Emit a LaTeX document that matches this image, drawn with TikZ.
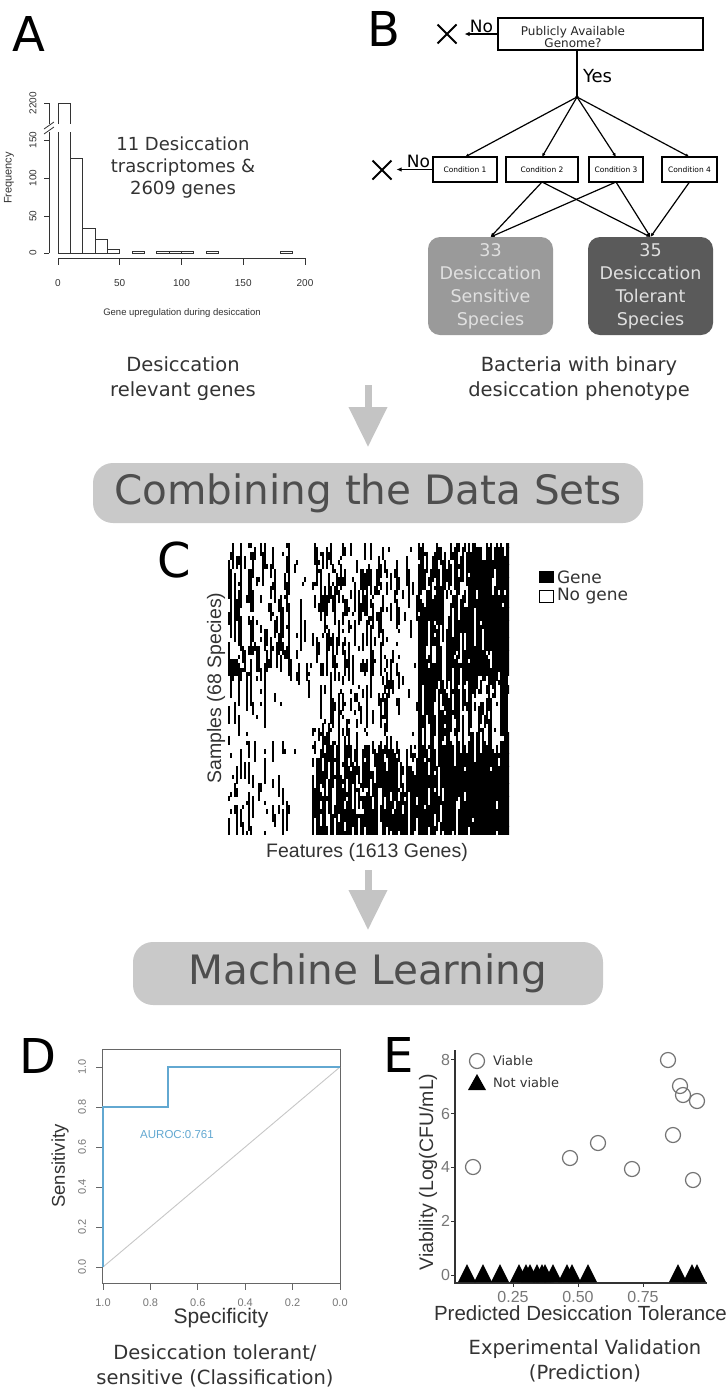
\documentclass[tikz,border=0pt]{standalone}
\usepackage{fontspec}
\setmainfont{DejaVu Sans}
\newfontfamily\arialf{Liberation Sans}
\usetikzlibrary{arrows.meta,shapes.misc}
\definecolor{boxgray}{HTML}{C9C9C9}
\definecolor{arrowgray}{HTML}{C4C4C4}
\definecolor{sensgray}{HTML}{9A9A9A}
\definecolor{tolgray}{HTML}{5A5A5A}
\definecolor{boxtext}{HTML}{4E4E4E}
\definecolor{rocblue}{HTML}{62A8D1}
\definecolor{ticktext}{HTML}{777777}
\definecolor{darktext}{HTML}{333333}
\begin{document}
\begin{tikzpicture}[x=1pt,y=-1pt,
  every node/.style={inner sep=0pt,outer sep=0pt},
  panelletter/.style={font=\fontsize{48}{50}\selectfont},
  captxt/.style={font=\fontsize{19.5}{25}\selectfont,align=center,text=darktext},
  flowbox/.style={draw,line width=1.6pt,align=center},
  treeline/.style={line width=1.2pt,-{Latex[length=4pt,width=3.5pt]}},
  noarrow/.style={line width=1.2pt,-{Latex[length=5pt,width=4.5pt]}},
  xmark/.style={draw,cross out,line width=1.8pt,minimum size=19pt},
  bigbox/.style={fill=boxgray,rounded corners=20pt,text=boxtext,font=\fontsize{40.5}{44}\selectfont},
  bigarrow/.style={draw=arrowgray,line width=7pt,-{Triangle[length=40pt,width=37pt]}},
  histbar/.style={draw=darktext,line width=0.9pt},
  axisA/.style={draw=darktext,line width=0.8pt},
  tickA/.style={font=\arialf\fontsize{10}{11}\selectfont,text=darktext},
  tickD/.style={font=\arialf\fontsize{11}{12}\selectfont,text=ticktext},
  tickE/.style={font=\arialf\fontsize{16}{18}\selectfont,text=ticktext},
  plotlab/.style={font=\arialf\fontsize{19.5}{22}\selectfont,text=darktext},
  specbox/.style={rounded corners=12pt,minimum width=125pt,minimum height=98pt,align=center,font=\fontsize{17.5}{23}\selectfont,text=white!88!black}
]
\useasboundingbox (0,0) rectangle (726,1390);
\fill[white] (0,0) rectangle (726,1390);

% ---------------- Panel letters
\node[panelletter] (lA) at (28.5,34) {A};
\node[panelletter] (lB) at (384,29) {B};
\node[panelletter] (lC) at (174,560) {C};
\node[panelletter] (lD) at (37.5,1056) {D};
\node[panelletter] (lE) at (399,1055) {E};

% ---------------- Panel A histogram
\draw[axisA] (58,258) -- (305,258);
\foreach \v/\t in {0/0,50/50,100/100,150/150,200/200}{
  \draw[axisA] ({58+1.235*\v},258) -- ({58+1.235*\v},265);
  \node[tickA] at ({58+1.235*\v},283) {\t};
}
\draw[axisA] (49,253) -- (49,132);
\draw[axisA] (49,124) -- (49,103);
\foreach \yy/\t in {253/0,216/50,178/100,140/150,103/2200}{
  \draw[axisA] (44,\yy) -- (49,\yy);
  \node[tickA,rotate=90] at (33,\yy) {\t};
}
\draw[axisA] (44,134) -- (54,127);
\draw[axisA] (44,129) -- (54,122);
\node[font=\arialf\fontsize{11}{12}\selectfont,text=darktext,rotate=90] (freq) at (9,178) {Frequency};
\node[font=\arialf\fontsize{9.5}{11}\selectfont,text=darktext] (xlabA) at (182,313) {Gene upregulation during desiccation};
% first bar with break
\draw[histbar] (58,253) -- (58,132);
\draw[histbar] (58,124) -- (58,103) -- (70.35,103) -- (70.35,124);
\draw[histbar] (70.35,132) -- (70.35,253) -- (58,253);
\foreach \a/\h in {10/125,20/33,30/18,40/5,60/2,80/1,90/1,100/1,120/1,180/1}{
  \draw[histbar] ({58+1.235*\a},253) rectangle ({58+1.235*(\a+10)},{253-max(0.753*\h,1.5)});
}
\node[font=\fontsize{18}{22}\selectfont,align=center,text=darktext] (histtxt) at (183,168) {11 Desiccation\\trascriptomes \&\\2609 genes};
\node[captxt] (capA) at (183,379) {Desiccation\\relevant genes};

% ---------------- Panel B flow chart
\node[flowbox,minimum width=205pt,minimum height=32pt] (pub) at (600.5,34) {};
\node[font=\fontsize{12}{12.5}\selectfont,align=center,text=black!85] (pubtxt) at (573,37) {Publicly Available\\Genome?};
\node[xmark] (xm1) at (447,34) {};
\node[font=\fontsize{17}{18}\selectfont] (no1) at (481.5,26) {No};
\draw[noarrow,shorten >=8pt] (pub.west) -- (pub.west -| xm1.east);
\coordinate (split) at (577,97);
\draw[line width=1.2pt] (pub.south -| split) -- (split);
\fill (split) circle (1.8);
\node[anchor=west,font=\fontsize{18}{20}\selectfont] (yes) at (583,76) {Yes};
\node[flowbox,minimum width=64pt,minimum height=25pt,font=\fontsize{7.5}{9}\selectfont] (c1) at (465,169.5) {Condition 1};
\node[flowbox,minimum width=72pt,minimum height=25pt,font=\fontsize{7.5}{9}\selectfont] (c2) at (542,169.5) {Condition 2};
\node[flowbox,minimum width=54pt,minimum height=25pt,font=\fontsize{7.5}{9}\selectfont] (c3) at (616,169.5) {Condition 3};
\node[flowbox,minimum width=55pt,minimum height=25pt,font=\fontsize{7.5}{9}\selectfont] (c4) at (689.5,169.5) {Condition 4};
\foreach \c in {c1,c2,c3,c4}{ \draw[treeline] (split) -- (\c.north); }
\node[xmark] (xm2) at (382,170) {};
\node[font=\fontsize{17}{18}\selectfont] (no2) at (418.5,161) {No};
\draw[noarrow,shorten >=5pt] (c1.west) -- (c1.west -| xm2.east);
\node[specbox,fill=sensgray] (sens) at (490.5,286) {33\\Desiccation\\Sensitive\\Species};
\node[specbox,fill=tolgray] (tol) at (650.5,286) {35\\Desiccation\\Tolerant\\Species};
\draw[treeline] (c2.south) -- (sens.north);
\draw[treeline] (c3.south) -- (sens.north);
\draw[treeline] (c2.south) -- (tol.north);
\draw[treeline] (c3.south) -- (tol.north);
\draw[treeline] (c4.south) -- (tol.north);
\node[captxt] (capB) at (579,379) {Bacteria with binary\\desiccation phenotype};

% ---------------- Combining box
\node[bigbox,minimum width=550pt,minimum height=60pt] (comb) at (368,493) {Combining the Data Sets};
\coordinate (ar1) at (368,385);
\draw[bigarrow,shorten >=16pt] (ar1) -- (comb.north);

% ---------------- Panel C heat map
\begin{scope}
\clip (228,543) rectangle (509,835);
\pgfmathsetseed{20231}
\foreach \i in {0,...,140}{
  \pgfmathsetmacro{\hmX}{228+2*\i}
  \pgfmathsetmacro{\hmF}{0.3+1.4*rnd}
  \pgfmathsetmacro{\hmA}{\hmX<290 ? 0.5 : (\hmX<312 ? 0.12 : (\hmX<400 ? 0.35 : (\hmX<418 ? 0.08 : (\hmX<470 ? 0.72 : 0.93))))}
  \pgfmathsetmacro{\hmM}{\hmX<290 ? 0.12 : (\hmX<312 ? 0.01 : (\hmX<400 ? 0.28 : (\hmX<418 ? 0.04 : (\hmX<470 ? 0.62 : 0.62))))}
  \pgfmathsetmacro{\hmB}{\hmX<290 ? 0.22 : (\hmX<312 ? 0.02 : (\hmX<400 ? 0.8 : (\hmX<418 ? 0.72 : (\hmX<470 ? 0.9 : 0.98))))}
  \gdef\hmPrev{0}
  \foreach \j in {0,...,67}{
    \pgfmathsetmacro{\hmQ}{\j<31 ? \hmA : (\j<47 ? \hmM : \hmB)}
    \pgfmathsetmacro{\hmD}{\hmQ>0.5 ? max(0,1-(1-\hmQ)*\hmF) : min(1,\hmQ*\hmF)}
    \pgfmathsetmacro{\hmP}{\hmPrev>0.5 ? \hmD+0.6*(1-\hmD) : 0.4*\hmD}
    \pgfmathsetmacro{\hmR}{rnd}
    \ifdim\hmR pt<\hmP pt
      \fill (\hmX,{543+4.294*\j}) rectangle ++(2.3,4.5);
      \gdef\hmPrev{1}
    \else
      \gdef\hmPrev{0}
    \fi
  }
}
\end{scope}
\node[plotlab] (featlab) at (367,852) {Features (1613 Genes)};
\node[plotlab,rotate=90] (samplab) at (216,688) {Samples (68 Species)};
\fill (539,571) rectangle (554,583);
\draw[line width=0.9pt] (539.5,590.5) rectangle (553.5,602);
\node[anchor=west,font=\fontsize{17}{18}\selectfont,text=darktext] (lgGene) at (557,577) {Gene};
\node[anchor=west,font=\fontsize{17}{18}\selectfont,text=darktext] (lgNo) at (557,596) {No gene};

% ---------------- Machine learning box
\coordinate (ar2) at (368,870);
\node[bigbox,minimum width=470pt,minimum height=63pt] (ml) at (368,973.5) {Machine Learning};
\draw[bigarrow,shorten >=12pt] (ar2) -- (ml.north);

% ---------------- Panel D ROC
\draw[draw=black!60,line width=0.8pt] (102,1049) rectangle (340,1283);
\foreach \v/\t in {0/0.0,0.2/0.2,0.4/0.4,0.6/0.6,0.8/0.8,1/1.0}{
  \draw[draw=black!60,line width=0.8pt] (96,{1267-200*\v}) -- (102,{1267-200*\v});
  \node[tickD,rotate=90] at (82,{1267-200*\v}) {\t};
}
\foreach \s/\t in {1/1.0,0.8/0.8,0.6/0.6,0.4/0.4,0.2/0.2,0/0.0}{
  \draw[draw=black!60,line width=0.8pt] ({340-237*\s},1283) -- ({340-237*\s},1290);
  \node[tickD] at ({340-237*\s},1303) {\t};
}
\draw[draw=black!22,line width=0.9pt] (103,1267) -- (340,1067);
\draw[draw=rocblue,line width=1.4pt] (103,1267) -- (103,1107) -- (168,1107) -- (168,1067) -- (340,1067);
\node[font=\arialf\fontsize{11.5}{12}\selectfont,text=rocblue] (auroc) at (177,1135) {AUROC:0.761};
\node[font=\arialf\fontsize{18.5}{20}\selectfont,text=darktext,rotate=90] (sensl) at (60,1166) {Sensitivity};
\node[font=\arialf\fontsize{21}{23}\selectfont,text=darktext] (specl) at (221,1318) {Specificity};
\node[captxt] (capD) at (215,1366) {Desiccation tolerant/\\sensitive (Classification)};

% ---------------- Panel E scatter
\draw[draw=darktext,line width=1.2pt] (455,1050) -- (455,1283) -- (707,1283);
\foreach \v in {0,2,4,6,8}{
  \draw[draw=darktext,line width=1pt] (451,{1275-26.9*\v}) -- (455,{1275-26.9*\v});
  \node[tickE,anchor=east] at (450,{1275-26.9*\v}) {\v};
}
\foreach \p/\t in {0.25/0.25,0.5/0.50,0.75/0.75}{
  \draw[draw=darktext,line width=1pt] ({448+260*\p},1283) -- ({448+260*\p},1287);
  \node[tickE] at ({448+260*\p},1297) {\t};
}
\foreach \px/\py in {473/1167,668/1060,680/1086,683/1095,697/1101,673/1135,570/1158,598/1143,632/1169,693/1180}{
  \draw[draw=black!55,line width=1.2pt] (\px,\py) circle (7.5);
}
\foreach \px in {467,483,500,519,526,530,537,542,545,553,567,572,588,678,692,697}{
  \fill (\px,1264) -- (\px-9,1282) -- (\px+9,1282) -- cycle;
}
\draw[draw=black!55,line width=1.2pt] (477,1061) circle (7.5);
\fill (477,1074) -- (468,1090) -- (486,1090) -- cycle;
\node[anchor=west,font=\fontsize{13}{14}\selectfont,text=darktext] (lgV) at (493,1061) {Viable};
\node[anchor=west,font=\fontsize{13}{14}\selectfont,text=darktext] (lgNV) at (493,1083) {Not viable};
\node[plotlab,rotate=90] (viab) at (428,1172) {Viability (Log(CFU/mL)};
\node[font=\arialf\fontsize{20.5}{22}\selectfont,text=darktext,anchor=west] (predl) at (434,1313) {Predicted Desiccation Tolerance};
\node[captxt] (capE) at (585,1361) {Experimental Validation\\(Prediction)};
\end{tikzpicture}
\end{document}
